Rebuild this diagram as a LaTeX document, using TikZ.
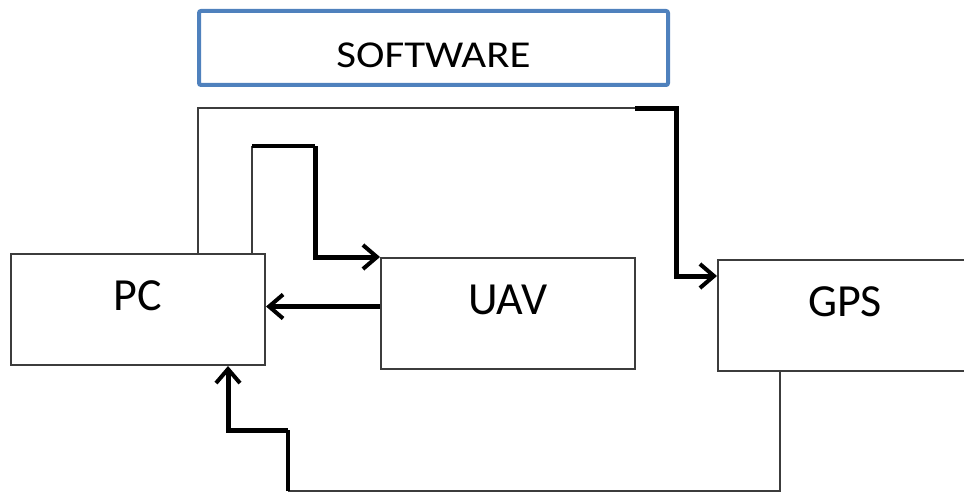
\documentclass[tikz,border=0pt]{standalone}
\usepackage{fontspec}
\newfontfamily\boxfont{Carlito}
\usetikzlibrary{arrows.meta}
\definecolor{boxgray}{RGB}{60,60,60}
\definecolor{swblue}{RGB}{79,129,189}
\tikzset{
  blk/.style={draw=boxgray,line width=2pt,minimum width=254pt,minimum height=111pt,
    inner sep=0pt,font=\boxfont\fontsize{46}{50}\selectfont,text height=30pt,text depth=28pt},
  swbox/.style={draw=swblue,line width=4pt,rounded corners=2pt,minimum width=469pt,
    minimum height=74pt,inner sep=0pt,font=\boxfont\fontsize{38}{42}\selectfont,
    text height=38pt,text depth=0pt},
  wire/.style={draw=boxgray,line width=2pt},
  mid/.style={draw=black,line width=3.5pt},
  fat/.style={draw=black,line width=5pt},
  arr/.style={-{Straight Barb[length=14pt,width=24pt,line width=4pt]}}
}
\begin{document}
\begin{tikzpicture}[x=1pt,y=-1pt]
  \useasboundingbox (0,0) rectangle (964,495);
  \node[swbox] (sw) at (433.5,48) {\scalebox{1.13}[1]{SOFTWARE}};
  \node[blk] (pc) at (138,309.5) {PC};
  \node[blk] (uav) at (508,313.5) {UAV};
  \node[blk] (gps) at (845,315.5) {GPS};
  % bends
  \coordinate (t1) at (635,108);
  \coordinate (t2) at (676,108);
  \coordinate (k1) at (252,146);
  \coordinate (k2) at (315,146);
  \coordinate (b1) at (288,491);
  \coordinate (b2) at (288,430);
  % PC -> GPS
  \draw[wire] ([xshift=60pt]pc.north) |- (t1);
  \draw[fat,arr] (t1) -- (t2) |- ([yshift=39.5pt]gps.west);
  % PC -> UAV
  \draw[wire] (pc.north -| k1) -- (k1);
  \draw[mid] (k1) -- (k2);
  \draw[fat,arr] (k2) |- (uav.north west);
  % UAV -> PC
  \draw[fat,arr] ([yshift=7pt]uav.west) -- ([yshift=3pt]pc.east);
  % GPS -> PC
  \draw[wire] ([xshift=-65pt]gps.south) |- (b1);
  \draw[mid] (b1) -- (b2);
  \draw[fat,arr] (b2) -| ([xshift=90pt]pc.south);
\end{tikzpicture}
\end{document}
